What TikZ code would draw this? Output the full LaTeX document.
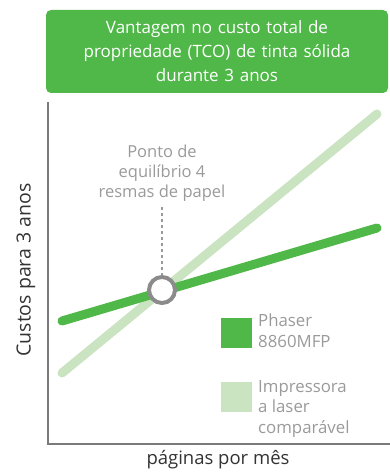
\documentclass[tikz,border=0pt]{standalone}
\usepackage{fontspec}
\setmainfont{Open Sans}
\usetikzlibrary{positioning}
\definecolor{phasergreen}{HTML}{50B848}
\definecolor{lasergreen}{HTML}{CAE4C2}
\definecolor{axisgray}{HTML}{7A7A7A}
\definecolor{notegray}{HTML}{9A9A9A}
\definecolor{labelgray}{HTML}{333333}
\tikzset{
	titlestyle/.style={rectangle,rounded corners=5pt,fill=phasergreen,text=white,align=center,inner sep=0pt,minimum width=342pt,minimum height=83pt,text width=335pt,font=\fontsize{17}{24}\selectfont},
	notestyle/.style={align=center,text=notegray,inner sep=0pt,font=\fontsize{16.5}{20}\selectfont},
	keystyle/.style={rectangle,minimum width=31pt,minimum height=30pt,inner sep=0pt},
	keytextstyle/.style={align=left,text=notegray,inner sep=0pt,font=\fontsize{16.8}{20.5}\selectfont},
	axisstyle/.style={draw=axisgray,line width=1.3pt},
	costline/.style={line width=9pt,line cap=round},
	breakstyle/.style={circle,draw=notegray!90!black,line width=4pt,fill=white,minimum size=26pt,inner sep=0pt}
}
\begin{document}
\begin{tikzpicture}[x=1pt,y=-1pt]
		\useasboundingbox (0,0) rectangle (390,473);
		\node[titlestyle] (title) at (217,51.5) {Vantagem no custo total de\\propriedade (TCO) de tinta sólida\\durante 3 anos};
		\coordinate (top) at (48,102);
		\coordinate (origin) at (48,444);
		\coordinate (right) at (390,444);
		\draw[axisstyle] (top)--(origin)--(right);
		\node[rotate=90,text=labelgray,font=\fontsize{19.5}{22}\selectfont] (ylabel) at (26,270) {Custos para 3 anos};
		\node[text=labelgray,font=\fontsize{18.5}{22}\selectfont] (xlabel) at (218,460) {páginas por mês};
		\coordinate (laser0) at (62,373);
		\coordinate (laser1) at (377,114);
		\coordinate (phaser0) at (62,321);
		\coordinate (phaser1) at (377,228);
		\draw[costline,lasergreen] (laser0)--(laser1);
		\draw[costline,phasergreen] (phaser0)--(phaser1);
		\node[notestyle] (note) at (162,173) {Ponto de\\equilíbrio 4\\resmas de papel};
		\node[breakstyle] (even) at (162,290) {};
		\draw[notegray,line width=1.6pt,dash pattern=on 3pt off 3pt] (note.south)++(0,6)--(even.north);
		\node[keystyle,fill=phasergreen] (key1) at (236.5,333) {};
		\node[keystyle,fill=lasergreen] (key2) at (236.5,397) {};
		\node[keytextstyle,anchor=north west] (keytext1) at (258,314) {Phaser\\8860MFP};
		\node[keytextstyle,anchor=north west] (keytext2) at (258,380) {Impressora\\a laser\\comparável};
		\end{tikzpicture}
\end{document}
